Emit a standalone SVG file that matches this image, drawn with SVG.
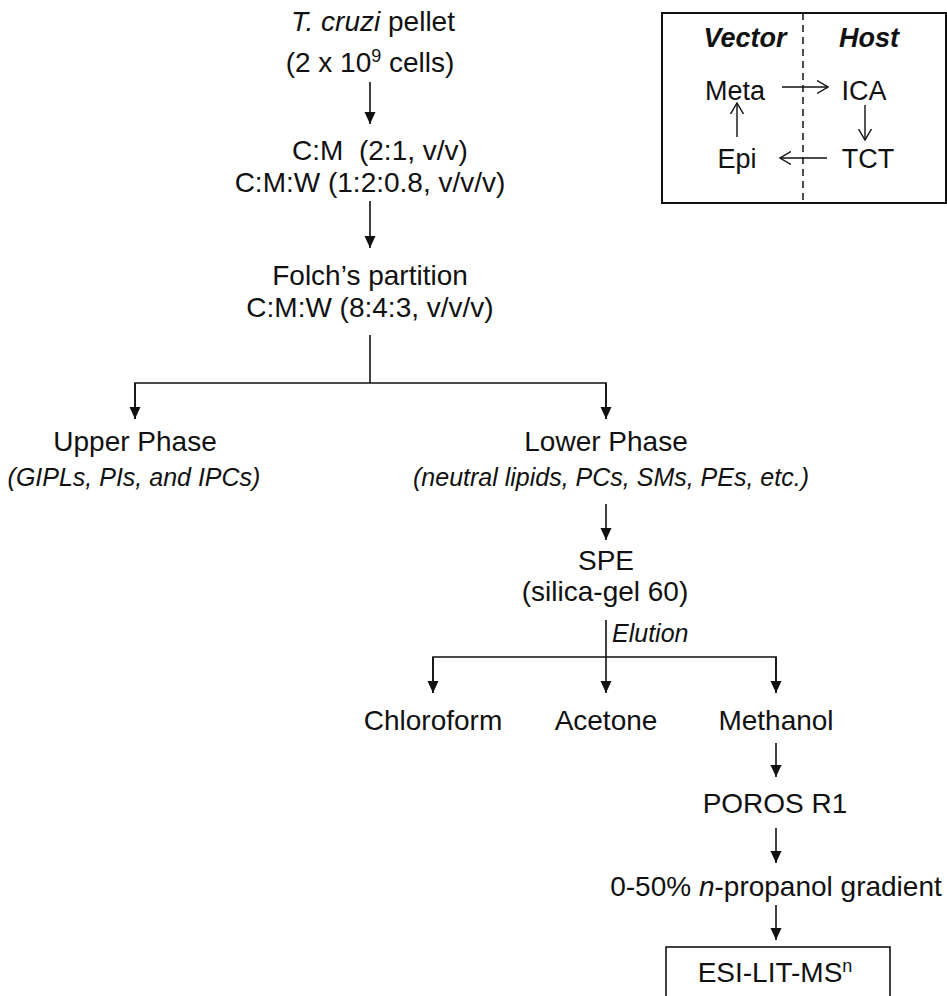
<svg xmlns="http://www.w3.org/2000/svg" width="947" height="996" viewBox="0 0 947 996">
<style>
text{font-family:"Liberation Sans",Arial,sans-serif;fill:#111;text-anchor:middle}
.t{font-size:28px}
.i{font-size:25px;font-style:italic}
.b{font-size:27px;font-weight:bold;font-style:italic}
.s{font-size:27px}
.ln{stroke:#111;stroke-width:1.6;fill:none}
.th{stroke:#111;stroke-width:1.4;fill:none}
</style>
<defs>
<marker id="ah" markerUnits="userSpaceOnUse" markerWidth="12" markerHeight="12" viewBox="0 0 12 12" refX="12" refY="6" orient="auto">
<path d="M0,0.5 L12,6 L0,11.5 z" fill="#111"/>
</marker>
<marker id="ov" markerUnits="userSpaceOnUse" markerWidth="12" markerHeight="14" viewBox="0 0 12 14" refX="11" refY="7" orient="auto">
<path d="M0,0.5 L11,7 L0,13.5" fill="none" stroke="#111" stroke-width="1.4"/>
</marker>
</defs>
<g id="connectors">
<line class="ln" x1="370" y1="82" x2="370" y2="124" marker-end="url(#ah)"/>
<line class="ln" x1="370" y1="201" x2="370" y2="248" marker-end="url(#ah)"/>
<polyline class="ln" points="370,335 370,383"/>
<polyline class="ln" points="135,419 135,383 606,383 606,419"/>
<line class="ln" x1="135" y1="383" x2="135" y2="419" marker-end="url(#ah)"/>
<line class="ln" x1="606" y1="383" x2="606" y2="419" marker-end="url(#ah)"/>
<line class="ln" x1="606" y1="504" x2="606" y2="540" marker-end="url(#ah)"/>
<line class="ln" x1="606" y1="620" x2="606" y2="693" marker-end="url(#ah)"/>
<polyline class="ln" points="433,693 433,657 776,657 776,693"/>
<line class="ln" x1="433" y1="657" x2="433" y2="693" marker-end="url(#ah)"/>
<line class="ln" x1="776" y1="657" x2="776" y2="693" marker-end="url(#ah)"/>
<line class="ln" x1="776" y1="743" x2="776" y2="777" marker-end="url(#ah)"/>
<line class="ln" x1="776" y1="828" x2="776" y2="863" marker-end="url(#ah)"/>
<line class="ln" x1="776" y1="905" x2="776" y2="940" marker-end="url(#ah)"/>
</g>
<g id="inset">
<rect x="662" y="13" width="284" height="190" fill="none" stroke="#111" stroke-width="2"/>
<line x1="803" y1="13" x2="803" y2="203" stroke="#111" stroke-width="1.5" stroke-dasharray="7,5"/>
<text class="b" x="745" y="47">Vector</text>
<text class="b" x="869" y="47">Host</text>
<text class="s" x="735" y="100">Meta</text>
<text class="s" x="864" y="100">ICA</text>
<text class="s" x="868" y="168">TCT</text>
<text class="s" x="737" y="168">Epi</text>
<line class="th" x1="782" y1="87" x2="828" y2="87" marker-end="url(#ov)"/>
<line class="th" x1="865" y1="105" x2="865" y2="140" marker-end="url(#ov)"/>
<line class="th" x1="827" y1="158" x2="780" y2="158" marker-end="url(#ov)"/>
<line class="th" x1="737" y1="137" x2="737" y2="103" marker-end="url(#ov)"/>
</g>
<g id="n-pellet">
<text class="t" x="373" y="31"><tspan font-style="italic">T. cruzi</tspan> pellet</text>
<text class="t" x="370" y="72">(2 x 10<tspan font-size="18" dy="-10">9</tspan><tspan dy="10"> cells)</tspan></text>
</g>
<g id="n-cm">
<text class="t" x="380" y="160">C:M&#160; (2:1, v/v)</text>
<text class="t" x="370" y="192">C:M:W (1:2:0.8, v/v/v)</text>
</g>
<g id="n-folch">
<text class="t" x="370" y="285">Folch’s partition</text>
<text class="t" x="370" y="317">C:M:W (8:4:3, v/v/v)</text>
</g>
<g id="n-upper">
<text class="t" x="135" y="451">Upper Phase</text>
<text class="i" x="134" y="486">(GIPLs, PIs, and IPCs)</text>
</g>
<g id="n-lower">
<text class="t" x="606" y="451">Lower Phase</text>
<text class="i" x="611" y="486">(neutral lipids, PCs, SMs, PEs, etc.)</text>
</g>
<g id="n-spe">
<text class="t" x="606" y="570">SPE</text>
<text class="t" x="605" y="601">(silica-gel 60)</text>
<text class="i" x="612" y="642" style="text-anchor:start">Elution</text>
</g>
<g id="n-chloroform"><text class="t" x="433" y="730">Chloroform</text></g>
<g id="n-acetone"><text class="t" x="606" y="730">Acetone</text></g>
<g id="n-methanol"><text class="t" x="776" y="730">Methanol</text></g>
<g id="n-poros"><text class="t" x="775" y="813">POROS R1</text></g>
<g id="n-gradient"><text class="t" x="776" y="896">0-50% <tspan font-style="italic">n</tspan>-propanol gradient</text></g>
<g id="n-esi">
<rect x="666" y="947" width="224" height="56" fill="none" stroke="#111" stroke-width="1.6"/>
<text class="t" x="775" y="982">ESI-LIT-MS<tspan font-size="18" dy="-10">n</tspan></text>
</g>
</svg>
